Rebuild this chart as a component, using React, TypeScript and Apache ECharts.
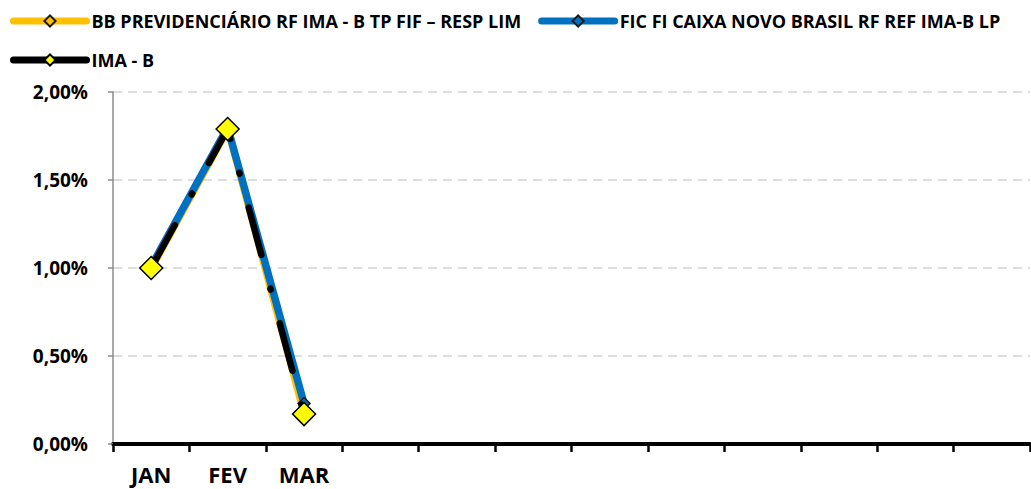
import React, { useEffect, useRef } from "react";
import * as echarts from "echarts";

const months = ["JAN", "FEV", "MAR", "", "", "", "", "", "", "", "", ""];
const seriesNames = [
  "BB PREVIDENCIÁRIO RF IMA - B TP FIF – RESP LIM",
  "FIC FI CAIXA NOVO BRASIL RF REF IMA-B LP",
  "IMA - B",
];
const bbValues = [0.99, 1.78, 0.16];
const caixaValues = [1.01, 1.8, 0.23];
const imabValues = [1.0, 1.79, 0.17];
const yMin = 0;
const yMax = 2;
const yInterval = 0.5;

const FONT = "'Open Sans', sans-serif";
const YELLOW = "#ffc000";
const BLUE = "#0070c0";

export default function App() {
  const ref = useRef<HTMLDivElement>(null);
  useEffect(() => {
    if (!ref.current) return;
    const chart = echarts.init(ref.current, null, { renderer: "svg" });
    const fmt = (v: number) => v.toFixed(2).replace(".", ",") + "%";
    chart.setOption({
      animation: false,
      backgroundColor: "#ffffff",
      legend: {
        left: 10,
        top: 10,
        width: 1015,
        itemWidth: 73,
        itemHeight: 14,
        itemGap: 17,
        padding: 0,
        textStyle: {
          fontFamily: FONT,
          fontWeight: "bold",
          fontSize: 18,
          color: "#000",
          lineHeight: 22,
        },
        data: [
          { name: seriesNames[0], lineStyle: { color: YELLOW, width: 7, cap: "round" } },
          { name: seriesNames[1], lineStyle: { color: BLUE, width: 7, cap: "round" } },
          { name: seriesNames[2], lineStyle: { color: "#000", width: 7, type: "solid", cap: "round" } },
        ],
      },
      grid: {
        left: 113,
        right: 1,
        top: 92,
        bottom: 45,
        containLabel: false,
        outerBoundsMode: "none",
      },
      xAxis: {
        type: "category",
        data: months,
        boundaryGap: true,
        axisLine: { show: true, lineStyle: { color: "#000", width: 4 } },
        axisTick: { show: true, alignWithLabel: false, length: 8, lineStyle: { color: "#000", width: 2.5 } },
        axisLabel: {
          interval: 0,
          margin: 19,
          fontFamily: FONT,
          fontWeight: "bold",
          fontSize: 22,
          color: "#000",
        },
        splitLine: { show: false },
      },
      yAxis: {
        type: "value",
        min: yMin,
        max: yMax,
        interval: yInterval,
        axisLine: { show: true, lineStyle: { color: "#8c8c8c", width: 1.5 } },
        axisTick: { show: true, length: 5, lineStyle: { color: "#8c8c8c", width: 1.5 } },
        axisLabel: {
          margin: 25,
          formatter: fmt,
          fontFamily: FONT,
          fontWeight: "bold",
          fontSize: 19,
          color: "#000",
        },
        splitLine: {
          show: true,
          lineStyle: { color: "#d4d4d4", width: 1.5, type: [9, 6] },
        },
      },
      series: [
        {
          name: seriesNames[0],
          type: "line",
          data: bbValues,
          symbol: "diamond",
          symbolSize: 12,
          lineStyle: { color: YELLOW, width: 6, cap: "round", join: "round" },
          itemStyle: { color: YELLOW, borderColor: "#1a1a1a", borderWidth: 1.5 },
          z: 2,
        },
        {
          name: seriesNames[1],
          type: "line",
          data: caixaValues,
          symbol: "diamond",
          symbolSize: 12,
          lineStyle: { color: BLUE, width: 7.5, cap: "round", join: "round" },
          itemStyle: { color: BLUE, borderColor: "#1a1a1a", borderWidth: 1.5 },
          z: 3,
        },
        {
          name: seriesNames[2],
          type: "line",
          data: imabValues,
          symbol: "diamond",
          symbolSize: 23,
          lineStyle: { color: "#000", width: 6.5, type: [49, 35, 1, 35], cap: "round", join: "round" },
          itemStyle: { color: "#ffff00", borderColor: "#000", borderWidth: 1.5 },
          z: 4,
        },
      ],
    });
    return () => chart.dispose();
  }, []);
  return (
    <div
      ref={ref}
      style={{ position: "fixed", left: 0, top: 0, width: 1031, height: 489, background: "#fff" }}
    />
  );
}
